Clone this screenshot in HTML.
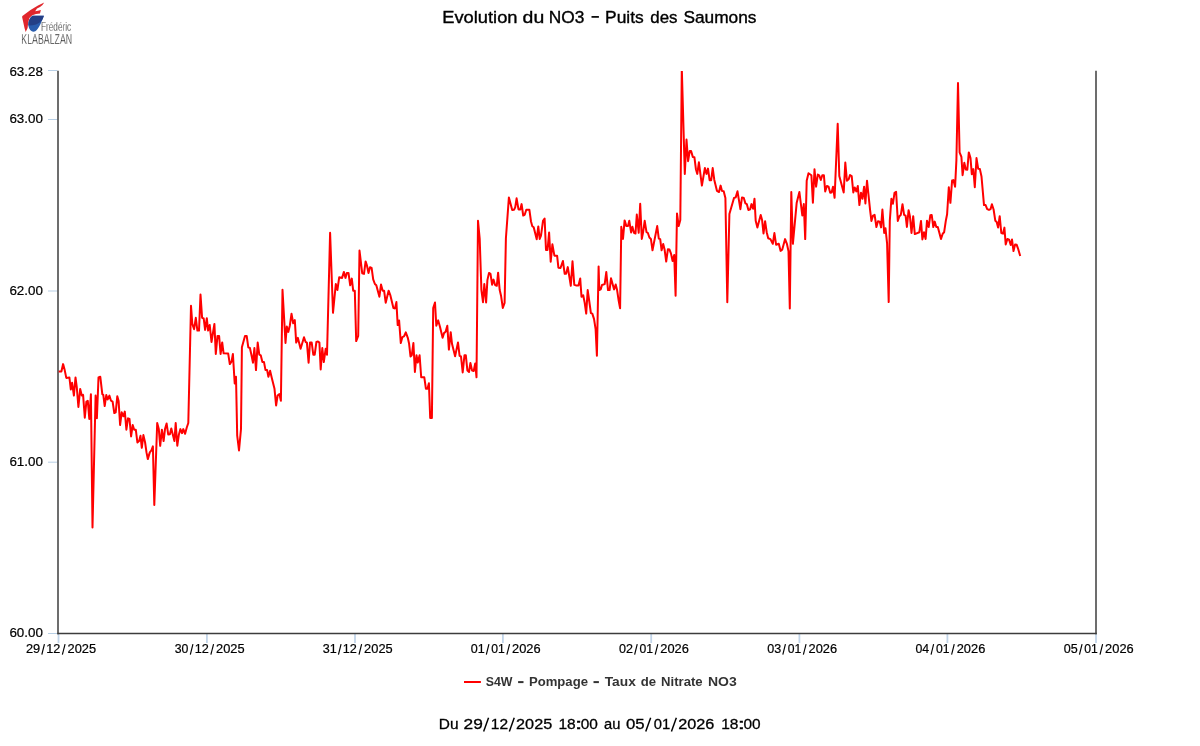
<!DOCTYPE html>
<html><head><meta charset="utf-8"><title>Evolution du NO3 - Puits des Saumons</title>
<style>
html,body{margin:0;padding:0;background:#fff;}
body{width:1200px;height:746px;overflow:hidden;font-family:"Liberation Sans",sans-serif;}
svg{display:block;will-change:transform;}
text{font-family:"Liberation Sans",sans-serif;}
</style></head><body>
<svg width="1200" height="746" viewBox="0 0 1200 746">
<defs><clipPath id="plot"><rect x="58" y="71" width="1039" height="563"/></clipPath></defs>
<rect width="1200" height="746" fill="#fff"/>
<g id="logo">
<path d="M44.2,2.6 L38,5.6 L30.5,9.9 L22.4,15.9 L22.1,17 L23,21 L24.5,28 L25.7,31.9 L27.6,28 L28.2,22.5 L29.4,18 L32.3,15.2 L36,14 L40,13.6 L40.9,10.1 L38,10.7 L35.2,11.3 L37,8.6 L40,6.9 L42.5,5.1 Z" fill="#e0262c"/>
<path d="M32.6,15.7 L43.9,15.8 C43,18.5 41.5,22 40,25 C38.6,28 37,30 35.3,31.2 C34.2,31.8 32.6,31.8 31.4,31 C29.6,29.8 28.6,27.6 28.3,25 C28.1,21.5 29.6,17.6 32.6,15.7 Z" fill="#2a5dae"/>
<path d="M32.6,15.7 L43.9,15.8 C43.2,17.8 42.3,19.8 41.2,21.2 C38.5,23.8 33.5,25.8 28.5,25.6 C28,21.8 29.6,17.6 32.6,15.7 Z" fill="#243f86"/>
<text x="41.1" y="30.8" font-size="13.3" fill="#262626" stroke="#fff" stroke-width="0.3" paint-order="fill stroke" textLength="30" lengthAdjust="spacingAndGlyphs">Frédéric</text>
<text x="21.3" y="43.6" font-size="14.2" fill="#222" stroke="#fff" stroke-width="0.33" paint-order="fill stroke" textLength="50.8" lengthAdjust="spacingAndGlyphs">KLABALZAN</text>
</g>
<line x1="48" y1="70.5" x2="57.3" y2="70.5" stroke="#b8cfe5" stroke-width="1"/>
<line x1="48" y1="119.5" x2="57.3" y2="119.5" stroke="#b8cfe5" stroke-width="1"/>
<line x1="48" y1="291.0" x2="57.3" y2="291.0" stroke="#b8cfe5" stroke-width="1"/>
<line x1="48" y1="462.2" x2="57.3" y2="462.2" stroke="#b8cfe5" stroke-width="1"/>
<line x1="48" y1="633.5" x2="57.3" y2="633.5" stroke="#b8cfe5" stroke-width="1"/>
<line x1="58.5" y1="634" x2="58.5" y2="643" stroke="#c2d5e9" stroke-width="1.8"/>
<line x1="206.9" y1="634" x2="206.9" y2="643" stroke="#c2d5e9" stroke-width="1.8"/>
<line x1="355.0" y1="634" x2="355.0" y2="643" stroke="#c2d5e9" stroke-width="1.8"/>
<line x1="502.9" y1="634" x2="502.9" y2="643" stroke="#c2d5e9" stroke-width="1.8"/>
<line x1="651.2" y1="634" x2="651.2" y2="643" stroke="#c2d5e9" stroke-width="1.8"/>
<line x1="799.4" y1="634" x2="799.4" y2="643" stroke="#c2d5e9" stroke-width="1.8"/>
<line x1="947.4" y1="634" x2="947.4" y2="643" stroke="#c2d5e9" stroke-width="1.8"/>
<line x1="1096.0" y1="634" x2="1096.0" y2="643" stroke="#c2d5e9" stroke-width="1.8"/>
<line x1="58" y1="70.7" x2="58" y2="634.2" stroke="#3c3c3c" stroke-width="1.5"/>
<line x1="1096" y1="70.7" x2="1096" y2="634.2" stroke="#3c3c3c" stroke-width="1.5"/>
<line x1="57.25" y1="633.5" x2="1096.75" y2="633.5" stroke="#3c3c3c" stroke-width="1.5"/>
<polyline clip-path="url(#plot)" fill="none" stroke="#ff0000" stroke-width="2" stroke-linejoin="round" stroke-linecap="butt" points="58.7,371.4 61.4,371.4 63.1,364.1 64.7,370.1 66.3,377.9 69.4,377.5 70.8,389.5 72.1,382.8 73.9,395.6 75.5,377.5 76.8,387.5 78.4,407.0 80.2,388.9 81.8,395.6 83.1,394.9 84.8,417.7 86.4,401.6 87.8,400.9 89.3,419.0 90.9,394.2 92.5,527.5 95.6,395.6 96.9,418.3 98.5,377.5 100.3,376.8 102.3,394.2 103.3,394.9 104.7,406.0 106.3,394.9 107.6,399.6 109.4,395.6 111.0,400.7 112.6,401.6 114.3,413.0 115.7,412.3 117.3,396.2 118.6,400.9 120.1,425.0 121.7,412.3 123.4,416.3 124.8,411.6 126.4,429.7 128.0,418.3 129.5,419.0 131.1,436.4 132.7,425.0 134.2,429.7 135.8,429.7 137.4,442.5 139.1,441.1 140.5,435.8 141.8,447.8 143.4,435.1 145.1,442.5 146.5,452.4 147.8,459.1 149.8,452.4 151.4,450.4 152.9,446.4 154.3,505.0 157.2,423.0 158.8,429.1 160.2,445.8 161.9,429.7 163.6,441.1 165.0,429.1 166.6,423.4 168.2,434.4 169.9,434.2 171.3,428.4 172.6,433.8 174.4,441.1 175.7,423.0 177.3,445.8 178.9,434.4 180.4,429.1 182.0,433.1 183.3,429.1 185.1,433.8 186.7,427.7 188.3,423.0 191.0,305.8 192.3,323.9 194.1,329.2 195.8,317.8 197.4,330.6 199.0,330.6 200.5,294.6 202.1,317.8 203.7,318.5 205.1,329.9 206.8,318.2 208.1,330.6 209.7,324.9 211.5,342.0 214.4,323.9 215.8,354.0 217.5,335.9 219.1,335.9 220.6,354.0 222.2,342.4 223.6,353.3 228.2,353.6 229.8,364.1 231.6,361.4 232.9,354.0 234.7,383.5 236.0,376.8 237.2,435.7 239.0,450.4 241.0,429.0 241.9,347.3 245.0,335.9 246.7,335.9 248.3,347.3 249.9,348.0 251.4,354.7 253.0,362.7 254.4,348.0 256.0,370.1 257.7,342.6 259.3,354.7 260.8,355.4 262.4,362.1 264.0,362.1 265.5,370.1 267.1,370.1 268.4,376.8 270.1,370.8 271.8,378.0 274.5,388.8 276.1,405.5 277.6,395.5 279.4,394.1 280.9,400.8 282.5,289.7 285.5,342.9 286.8,326.5 288.3,331.9 289.9,325.2 291.5,313.8 293.2,323.2 294.8,320.1 296.2,342.6 297.9,337.9 300.6,348.7 304.0,337.3 305.6,342.0 306.9,342.6 308.6,362.7 310.0,342.6 311.7,342.6 313.3,354.7 314.7,354.7 316.4,342.0 318.0,341.5 319.4,342.6 320.7,369.4 322.3,348.0 323.8,362.1 325.7,348.7 327.0,354.7 330.1,232.8 333.0,312.8 335.8,284.0 337.4,290.0 339.2,277.3 342.1,277.9 343.9,271.9 345.5,277.9 346.8,273.0 348.5,273.0 350.2,285.3 351.8,278.6 353.2,290.7 354.8,290.7 356.2,341.1 358.2,335.8 359.5,250.5 362.2,273.2 364.0,273.9 365.6,261.4 366.9,265.2 368.5,273.0 370.0,267.2 371.6,267.9 373.2,279.3 374.9,284.0 376.3,285.3 379.4,296.7 381.0,284.6 382.7,290.7 384.1,290.7 385.7,302.7 388.6,290.7 390.4,295.4 393.4,308.1 395.0,308.4 396.4,302.1 397.7,325.1 399.1,320.4 400.8,343.1 402.4,337.1 404.0,336.4 405.8,332.4 407.8,337.8 409.1,343.8 410.5,356.5 411.8,355.2 413.4,343.1 414.9,372.0 416.5,355.2 417.8,362.6 419.6,355.2 421.2,377.3 424.3,377.3 425.9,388.7 427.5,388.7 428.9,383.3 430.2,418.0 431.9,418.0 433.2,308.1 435.0,302.5 436.3,325.7 438.2,320.4 439.9,326.4 442.6,337.8 444.0,333.1 445.6,331.8 447.3,325.7 448.9,349.6 450.7,332.2 452.0,343.8 455.1,356.3 458.0,342.5 459.6,355.9 461.0,356.5 462.7,372.4 464.5,355.2 465.8,355.2 467.4,370.6 469.0,372.0 470.4,363.0 472.1,370.6 473.7,371.0 475.2,363.5 476.5,377.3 478.0,220.8 479.7,238.8 481.4,290.1 483.0,302.2 484.3,284.1 486.1,302.4 487.4,280.1 489.0,272.9 490.5,273.8 492.1,284.7 493.5,279.6 495.1,285.0 496.8,285.8 498.1,272.7 499.7,290.1 501.1,296.1 502.8,307.9 504.6,302.8 505.9,238.2 508.9,197.4 512.2,210.1 514.0,209.8 515.2,207.4 516.6,198.3 518.5,209.4 520.3,209.4 521.6,204.1 523.2,215.5 524.7,214.8 526.3,209.8 529.4,209.8 531.0,221.5 532.3,226.2 533.7,227.3 536.7,239.3 538.3,226.4 539.7,238.9 541.0,235.6 543.0,220.8 544.6,218.5 546.0,250.0 547.5,250.0 549.1,232.6 550.7,261.7 552.4,244.3 554.4,255.7 557.1,255.7 558.4,267.7 560.5,268.0 562.9,261.0 564.7,273.8 566.1,273.8 567.8,267.1 570.8,285.8 572.5,261.3 574.3,284.9 575.9,285.4 578.5,285.4 580.2,278.4 581.5,296.8 583.2,295.2 584.6,302.2 586.2,313.6 587.7,290.1 589.3,301.5 590.9,313.1 592.3,313.6 594.0,318.9 595.6,329.0 596.9,355.8 598.6,266.4 599.3,290.1 600.7,289.4 602.0,285.0 604.7,284.1 606.3,272.0 608.0,290.1 609.6,290.1 611.0,278.3 614.1,289.4 615.7,284.5 617.1,290.1 618.7,300.8 620.1,308.2 621.3,226.8 623.0,238.9 624.6,220.4 626.4,226.1 628.0,226.1 629.3,220.8 631.1,232.4 632.4,226.8 634.0,232.8 635.5,233.5 636.8,214.5 638.7,232.8 640.2,203.8 641.8,238.9 643.1,232.2 644.7,220.8 646.5,232.2 647.8,232.8 649.4,237.5 650.9,238.9 652.5,250.3 657.2,226.1 658.8,238.6 660.2,239.1 661.6,250.3 663.2,244.0 664.6,249.6 666.2,261.6 667.9,249.3 669.5,249.6 671.0,253.6 672.6,261.0 674.2,254.9 675.6,295.8 677.0,213.4 678.7,226.1 680.3,220.1 681.8,68.6 684.8,173.9 686.5,139.5 688.1,161.2 689.7,151.1 691.1,151.1 692.8,156.9 694.4,157.2 695.9,169.2 697.3,173.9 698.9,162.3 701.9,185.6 704.9,167.9 706.5,173.9 708.0,168.6 709.6,180.2 711.2,180.2 712.7,168.1 714.3,179.9 717.0,190.9 719.0,192.0 720.6,185.6 722.0,190.9 723.7,191.3 725.4,198.0 727.3,302.3 729.4,214.1 734.0,198.0 735.7,197.4 737.5,191.3 740.4,209.2 742.0,197.4 743.8,198.0 745.4,203.4 746.8,204.1 748.4,210.1 750.1,209.4 751.5,204.1 753.1,208.8 754.5,198.7 755.7,220.8 757.4,227.5 760.7,215.0 762.1,220.1 763.5,233.5 765.1,221.2 766.7,232.2 768.2,238.2 770.4,239.1 772.8,243.8 774.4,233.1 776.1,244.7 778.8,243.8 780.6,250.9 782.2,249.8 785.1,239.1 786.9,243.8 788.5,251.2 789.8,308.4 791.3,192.0 792.9,243.8 796.7,202.7 799.4,192.0 802.3,215.5 803.8,204.1 805.2,239.1 806.7,180.7 808.5,173.3 811.4,175.3 812.9,202.8 814.5,169.3 816.1,186.7 817.8,174.6 819.2,175.3 820.8,180.0 822.3,175.3 823.9,175.3 825.2,191.4 826.9,186.0 828.6,186.7 830.2,192.7 831.6,192.5 833.0,186.7 834.6,197.8 837.7,123.7 839.3,176.0 843.7,192.5 845.3,162.6 846.9,180.7 848.7,179.3 850.0,175.0 851.7,176.0 853.3,192.5 854.7,187.4 856.3,191.4 857.8,186.0 859.4,205.1 861.0,192.7 862.5,198.8 864.1,186.7 865.4,203.4 867.0,180.7 870.1,210.1 871.4,220.9 873.0,215.6 874.6,214.9 876.4,227.0 878.0,221.2 879.7,221.6 881.1,227.4 882.4,209.5 884.2,233.0 885.5,228.3 887.1,243.7 888.7,302.1 889.8,220.9 891.4,198.8 892.9,203.8 894.5,192.8 896.1,191.8 897.8,220.9 899.4,216.2 900.8,214.9 902.5,204.2 904.1,214.9 905.6,215.6 906.9,227.0 908.6,210.2 909.9,216.2 911.5,233.0 913.2,216.2 914.8,234.1 919.3,232.3 921.0,220.9 922.4,239.4 924.0,232.3 925.6,239.0 927.0,220.7 928.7,227.0 930.3,215.3 931.7,214.9 933.3,227.0 934.7,221.6 936.3,227.0 937.8,227.0 941.0,239.0 942.7,233.7 944.1,232.3 945.8,220.9 947.1,214.2 948.8,187.2 950.4,202.8 952.1,180.5 953.4,180.1 955.1,186.8 956.4,160.1 958.0,83.0 959.6,152.4 961.4,156.8 962.6,175.2 964.3,162.8 965.8,169.5 967.3,169.8 968.8,152.4 970.5,158.1 971.8,174.2 973.3,169.1 974.8,187.2 976.5,158.1 978.2,168.8 979.9,169.1 981.5,176.5 984.0,205.1 985.6,205.1 987.2,209.1 989.0,209.9 990.6,209.1 991.9,204.2 993.6,209.5 995.3,220.7 996.7,222.0 998.1,227.6 999.7,216.2 1001.3,233.0 1003.0,233.7 1004.4,227.6 1005.7,244.4 1007.4,239.0 1009.1,239.7 1010.7,245.0 1012.0,239.4 1013.5,251.1 1015.1,244.4 1016.7,244.8 1018.4,249.7 1020.2,256.0"/>
<line x1="464" y1="682" x2="480.9" y2="682" stroke="#ff0000" stroke-width="2"/>
<text x="442.16" y="22.5" font-size="16.8" fill="#000" stroke="#000" stroke-width="0.35" textLength="75.38" lengthAdjust="spacingAndGlyphs">Evolution</text>
<text x="522.63" y="22.5" font-size="16.8" fill="#000" stroke="#000" stroke-width="0.35" textLength="21.63" lengthAdjust="spacingAndGlyphs">du</text>
<text x="548.85" y="22.5" font-size="16.8" fill="#000" stroke="#000" stroke-width="0.35" textLength="35.64" lengthAdjust="spacingAndGlyphs">NO3</text>
<text x="605.04" y="22.5" font-size="16.8" fill="#000" stroke="#000" stroke-width="0.35" textLength="38.74" lengthAdjust="spacingAndGlyphs">Puits</text>
<text x="650.25" y="22.5" font-size="16.8" fill="#000" stroke="#000" stroke-width="0.35" textLength="27.22" lengthAdjust="spacingAndGlyphs">des</text>
<text x="683.43" y="22.5" font-size="16.8" fill="#000" stroke="#000" stroke-width="0.35" textLength="73.05" lengthAdjust="spacingAndGlyphs">Saumons</text>
<text x="9.40" y="76.05" font-size="12.5" fill="#000" stroke="#000" stroke-width="0.2" textLength="33.47" lengthAdjust="spacingAndGlyphs">63.28</text>
<text x="9.40" y="123.15" font-size="12.5" fill="#000" stroke="#000" stroke-width="0.2" textLength="33.47" lengthAdjust="spacingAndGlyphs">63.00</text>
<text x="9.40" y="294.55" font-size="12.5" fill="#000" stroke="#000" stroke-width="0.2" textLength="33.47" lengthAdjust="spacingAndGlyphs">62.00</text>
<text x="9.40" y="465.85" font-size="12.5" fill="#000" stroke="#000" stroke-width="0.2" textLength="33.47" lengthAdjust="spacingAndGlyphs">61.00</text>
<text x="9.40" y="637.15" font-size="12.5" fill="#000" stroke="#000" stroke-width="0.2" textLength="33.47" lengthAdjust="spacingAndGlyphs">60.00</text>
<text x="25.93" y="652.9" font-size="12.5" fill="#000" stroke="#000" stroke-width="0.2" textLength="14.24" lengthAdjust="spacingAndGlyphs">29</text>
<text x="46.19" y="652.9" font-size="12.5" fill="#000" stroke="#000" stroke-width="0.2" textLength="14.08" lengthAdjust="spacingAndGlyphs">12</text>
<text x="67.53" y="652.9" font-size="12.5" fill="#000" stroke="#000" stroke-width="0.2" textLength="28.55" lengthAdjust="spacingAndGlyphs">2025</text>
<text x="174.71" y="652.9" font-size="12.5" fill="#000" stroke="#000" stroke-width="0.2" textLength="13.69" lengthAdjust="spacingAndGlyphs">30</text>
<text x="194.69" y="652.9" font-size="12.5" fill="#000" stroke="#000" stroke-width="0.2" textLength="14.08" lengthAdjust="spacingAndGlyphs">12</text>
<text x="216.03" y="652.9" font-size="12.5" fill="#000" stroke="#000" stroke-width="0.2" textLength="28.55" lengthAdjust="spacingAndGlyphs">2025</text>
<text x="322.80" y="652.9" font-size="12.5" fill="#000" stroke="#000" stroke-width="0.2" textLength="13.96" lengthAdjust="spacingAndGlyphs">31</text>
<text x="342.79" y="652.9" font-size="12.5" fill="#000" stroke="#000" stroke-width="0.2" textLength="14.08" lengthAdjust="spacingAndGlyphs">12</text>
<text x="364.13" y="652.9" font-size="12.5" fill="#000" stroke="#000" stroke-width="0.2" textLength="28.55" lengthAdjust="spacingAndGlyphs">2025</text>
<text x="470.70" y="652.9" font-size="12.5" fill="#000" stroke="#000" stroke-width="0.2" textLength="13.96" lengthAdjust="spacingAndGlyphs">01</text>
<text x="491.21" y="652.9" font-size="12.5" fill="#000" stroke="#000" stroke-width="0.2" textLength="13.52" lengthAdjust="spacingAndGlyphs">01</text>
<text x="512.03" y="652.9" font-size="12.5" fill="#000" stroke="#000" stroke-width="0.2" textLength="28.55" lengthAdjust="spacingAndGlyphs">2026</text>
<text x="619.00" y="652.9" font-size="12.5" fill="#000" stroke="#000" stroke-width="0.2" textLength="13.96" lengthAdjust="spacingAndGlyphs">02</text>
<text x="639.51" y="652.9" font-size="12.5" fill="#000" stroke="#000" stroke-width="0.2" textLength="13.52" lengthAdjust="spacingAndGlyphs">01</text>
<text x="660.33" y="652.9" font-size="12.5" fill="#000" stroke="#000" stroke-width="0.2" textLength="28.55" lengthAdjust="spacingAndGlyphs">2026</text>
<text x="767.20" y="652.9" font-size="12.5" fill="#000" stroke="#000" stroke-width="0.2" textLength="13.96" lengthAdjust="spacingAndGlyphs">03</text>
<text x="787.71" y="652.9" font-size="12.5" fill="#000" stroke="#000" stroke-width="0.2" textLength="13.52" lengthAdjust="spacingAndGlyphs">01</text>
<text x="808.53" y="652.9" font-size="12.5" fill="#000" stroke="#000" stroke-width="0.2" textLength="28.55" lengthAdjust="spacingAndGlyphs">2026</text>
<text x="915.41" y="652.9" font-size="12.5" fill="#000" stroke="#000" stroke-width="0.2" textLength="13.69" lengthAdjust="spacingAndGlyphs">04</text>
<text x="935.91" y="652.9" font-size="12.5" fill="#000" stroke="#000" stroke-width="0.2" textLength="13.52" lengthAdjust="spacingAndGlyphs">01</text>
<text x="956.73" y="652.9" font-size="12.5" fill="#000" stroke="#000" stroke-width="0.2" textLength="28.55" lengthAdjust="spacingAndGlyphs">2026</text>
<text x="1063.80" y="652.9" font-size="12.5" fill="#000" stroke="#000" stroke-width="0.2" textLength="13.96" lengthAdjust="spacingAndGlyphs">05</text>
<text x="1084.31" y="652.9" font-size="12.5" fill="#000" stroke="#000" stroke-width="0.2" textLength="13.52" lengthAdjust="spacingAndGlyphs">01</text>
<text x="1105.13" y="652.9" font-size="12.5" fill="#000" stroke="#000" stroke-width="0.2" textLength="28.55" lengthAdjust="spacingAndGlyphs">2026</text>
<text x="485.76" y="686.2" font-size="12.6" font-weight="bold" fill="#333" textLength="26.79" lengthAdjust="spacingAndGlyphs">S4W</text>
<text x="528.97" y="686.2" font-size="12.6" font-weight="bold" fill="#333" textLength="58.99" lengthAdjust="spacingAndGlyphs">Pompage</text>
<text x="604.73" y="686.2" font-size="12.6" font-weight="bold" fill="#333" textLength="31.11" lengthAdjust="spacingAndGlyphs">Taux</text>
<text x="640.73" y="686.2" font-size="12.6" font-weight="bold" fill="#333" textLength="15.34" lengthAdjust="spacingAndGlyphs">de</text>
<text x="661.12" y="686.2" font-size="12.6" font-weight="bold" fill="#333" textLength="41.54" lengthAdjust="spacingAndGlyphs">Nitrate</text>
<text x="707.92" y="686.2" font-size="12.6" font-weight="bold" fill="#333" textLength="28.78" lengthAdjust="spacingAndGlyphs">NO3</text>
<text x="438.82" y="728.7" font-size="15.1" fill="#000" stroke="#000" stroke-width="0.3" textLength="19.75" lengthAdjust="spacingAndGlyphs">Du</text>
<text x="463.54" y="728.7" font-size="15.1" fill="#000" stroke="#000" stroke-width="0.3" textLength="19.28" lengthAdjust="spacingAndGlyphs">29</text>
<text x="490.82" y="728.7" font-size="15.1" fill="#000" stroke="#000" stroke-width="0.3" textLength="17.25" lengthAdjust="spacingAndGlyphs">12</text>
<text x="516.09" y="728.7" font-size="15.1" fill="#000" stroke="#000" stroke-width="0.3" textLength="36.13" lengthAdjust="spacingAndGlyphs">2025</text>
<text x="558.47" y="728.7" font-size="15.1" fill="#000" stroke="#000" stroke-width="0.3" textLength="17.25" lengthAdjust="spacingAndGlyphs">18</text>
<text x="574.84" y="728.7" font-size="15.1" fill="#000" stroke="#000" stroke-width="0.3" textLength="7.73" lengthAdjust="spacingAndGlyphs">:</text>
<text x="580.79" y="728.7" font-size="15.1" fill="#000" stroke="#000" stroke-width="0.3" textLength="17.12" lengthAdjust="spacingAndGlyphs">00</text>
<text x="604.07" y="728.7" font-size="15.1" fill="#000" stroke="#000" stroke-width="0.3" textLength="16.35" lengthAdjust="spacingAndGlyphs">au</text>
<text x="625.94" y="728.7" font-size="15.1" fill="#000" stroke="#000" stroke-width="0.3" textLength="18.66" lengthAdjust="spacingAndGlyphs">05</text>
<text x="653.71" y="728.7" font-size="15.1" fill="#000" stroke="#000" stroke-width="0.3" textLength="16.42" lengthAdjust="spacingAndGlyphs">01</text>
<text x="678.19" y="728.7" font-size="15.1" fill="#000" stroke="#000" stroke-width="0.3" textLength="36.13" lengthAdjust="spacingAndGlyphs">2026</text>
<text x="721.22" y="728.7" font-size="15.1" fill="#000" stroke="#000" stroke-width="0.3" textLength="17.25" lengthAdjust="spacingAndGlyphs">18</text>
<text x="737.59" y="728.7" font-size="15.1" fill="#000" stroke="#000" stroke-width="0.3" textLength="7.73" lengthAdjust="spacingAndGlyphs">:</text>
<text x="743.54" y="728.7" font-size="15.1" fill="#000" stroke="#000" stroke-width="0.3" textLength="17.12" lengthAdjust="spacingAndGlyphs">00</text>
<line x1="591.50" y1="16.90" x2="598.90" y2="16.90" stroke="#000" stroke-width="1.7"/>
<line x1="41.85" y1="654.65" x2="44.45" y2="644.10" stroke="#000" stroke-width="1.15"/>
<line x1="62.40" y1="654.65" x2="65.05" y2="644.10" stroke="#000" stroke-width="1.15"/>
<line x1="190.35" y1="654.65" x2="192.95" y2="644.10" stroke="#000" stroke-width="1.15"/>
<line x1="210.90" y1="654.65" x2="213.55" y2="644.10" stroke="#000" stroke-width="1.15"/>
<line x1="338.45" y1="654.65" x2="341.05" y2="644.10" stroke="#000" stroke-width="1.15"/>
<line x1="359.00" y1="654.65" x2="361.65" y2="644.10" stroke="#000" stroke-width="1.15"/>
<line x1="486.35" y1="654.65" x2="488.95" y2="644.10" stroke="#000" stroke-width="1.15"/>
<line x1="506.90" y1="654.65" x2="509.55" y2="644.10" stroke="#000" stroke-width="1.15"/>
<line x1="634.65" y1="654.65" x2="637.25" y2="644.10" stroke="#000" stroke-width="1.15"/>
<line x1="655.20" y1="654.65" x2="657.85" y2="644.10" stroke="#000" stroke-width="1.15"/>
<line x1="782.85" y1="654.65" x2="785.45" y2="644.10" stroke="#000" stroke-width="1.15"/>
<line x1="803.40" y1="654.65" x2="806.05" y2="644.10" stroke="#000" stroke-width="1.15"/>
<line x1="931.05" y1="654.65" x2="933.65" y2="644.10" stroke="#000" stroke-width="1.15"/>
<line x1="951.60" y1="654.65" x2="954.25" y2="644.10" stroke="#000" stroke-width="1.15"/>
<line x1="1079.45" y1="654.65" x2="1082.05" y2="644.10" stroke="#000" stroke-width="1.15"/>
<line x1="1100.00" y1="654.65" x2="1102.65" y2="644.10" stroke="#000" stroke-width="1.15"/>
<line x1="518.10" y1="682.10" x2="523.50" y2="682.10" stroke="#333" stroke-width="2.0"/>
<line x1="593.50" y1="682.10" x2="598.90" y2="682.10" stroke="#333" stroke-width="2.0"/>
<line x1="483.65" y1="731.60" x2="488.55" y2="717.80" stroke="#000" stroke-width="1.45"/>
<line x1="509.35" y1="731.60" x2="514.25" y2="717.80" stroke="#000" stroke-width="1.45"/>
<line x1="645.75" y1="731.60" x2="650.65" y2="717.80" stroke="#000" stroke-width="1.45"/>
<line x1="671.45" y1="731.60" x2="676.35" y2="717.80" stroke="#000" stroke-width="1.45"/>
</svg></body></html>
